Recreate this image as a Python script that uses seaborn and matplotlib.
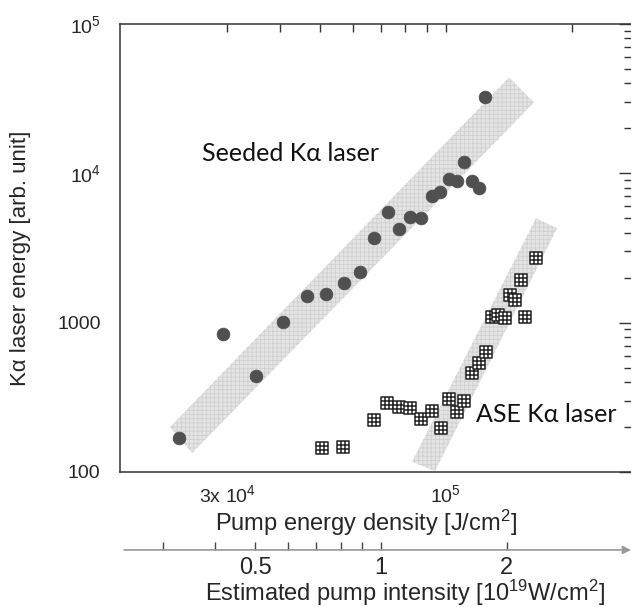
import numpy as np
import pandas as pd
import matplotlib
matplotlib.use('Agg')
import matplotlib.pyplot as plt
from matplotlib.path import Path
import seaborn as sns

# pump energy density [J/cm2] vs K-alpha laser energy [arb. unit]
seeded_x = [22970, 29280, 35120, 40760, 46530, 51660, 57050, 62310, 67320, 72700,
            77260, 82110, 87230, 92670, 96850, 101780, 106370, 110550, 115550, 120100, 124140]
seeded_y = [169, 837, 439, 1016, 1504, 1551, 1837, 2177, 3674, 5483,
            4219, 5078, 5000, 7020, 7460, 9120, 8840, 11850, 8840, 7940, 32230]

ase_x = [50540, 56740, 67320, 72300, 77260, 82110, 87230, 92670, 97390, 101780,
         106370, 110550, 115550, 120100, 124830, 129000, 133350, 138600, 142500,
         146500, 151400, 154800, 164400]
ase_y = [145, 147, 223, 289, 272, 268, 226, 256, 197, 308,
         252, 299, 459, 536, 635, 1089, 1122, 1072, 1528,
         1414, 1924, 1089, 2700]

# shaded guide bands (corners)
seeded_band_x = [21860, 24690, 162700, 141700]
seeded_band_y = [200, 134, 29850, 43850]
ase_band_x = [83010, 94220, 184600, 164400]
ase_band_y = [117, 101.5, 4287, 5000]

# 1e19 W/cm2 <-> J/cm2
intensity_factor = 7.0e4
intensity_major = [0.5, 1, 2]
intensity_minor = [0.3, 0.4, 0.6, 0.7, 0.8, 0.9]

seeded = pd.DataFrame({'energy_density': seeded_x, 'laser_energy': seeded_y})
ase = pd.DataFrame({'energy_density': ase_x, 'laser_energy': ase_y})

sns.set_style('white')
plt.rcParams['font.family'] = ['Liberation Sans', 'DejaVu Sans']
plt.rcParams['mathtext.fontset'] = 'custom'
plt.rcParams['mathtext.rm'] = 'Liberation Sans'
plt.rcParams['mathtext.it'] = 'Liberation Sans:italic'
plt.rcParams['hatch.linewidth'] = 0.6

fig = plt.figure(figsize=(6.31, 6.07), dpi=100)
ax = fig.add_axes([120/631, 135/607, 511/631, 448/607])
ax.set_xscale('log')
ax.set_yscale('log')
ax.set_xlim(16590, 277600)
ax.set_ylim(100, 1e5)

ax.fill(seeded_band_x, seeded_band_y, facecolor='#e4e4e4', edgecolor='#d0d0d0',
        hatch='++++', lw=0, zorder=1)
ax.fill(ase_band_x, ase_band_y, facecolor='#e4e4e4', edgecolor='#d0d0d0',
        hatch='++++', lw=0, zorder=1)

# square marker with a grid inside
grid_verts = [(-1, -1), (1, -1), (1, 1), (-1, 1), (-1, -1),
              (-1/3, -1), (-1/3, 1), (1/3, -1), (1/3, 1),
              (-1, -1/3), (1, -1/3), (-1, 1/3), (1, 1/3)]
grid_codes = [Path.MOVETO, Path.LINETO, Path.LINETO, Path.LINETO, Path.CLOSEPOLY,
              Path.MOVETO, Path.LINETO, Path.MOVETO, Path.LINETO,
              Path.MOVETO, Path.LINETO, Path.MOVETO, Path.LINETO]
grid_marker = Path(grid_verts, grid_codes)

sns.scatterplot(data=seeded, x='energy_density', y='laser_energy', ax=ax,
                marker='o', s=85, color='#505050', edgecolor='#505050', linewidth=0.5,
                zorder=3, legend=False)
sns.scatterplot(data=ase, x='energy_density', y='laser_energy', ax=ax,
                marker=grid_marker, s=80, facecolor='white', edgecolor='#222222',
                linewidth=1.1, zorder=3, legend=False)

ax.text(26080, 13610, 'Seeded K\u03b1 laser', fontsize=18, va='center', ha='left',
        family=['Lato', 'DejaVu Sans'], color='#111111')
ax.text(118100, 241, 'ASE K\u03b1 laser', fontsize=18, va='center', ha='left',
        family=['Lato', 'DejaVu Sans'], color='#111111')

for s in ['left', 'bottom', 'top']:
    ax.spines[s].set_color('#333333')
    ax.spines[s].set_linewidth(1.1)
ax.spines['right'].set_visible(False)

ax.set_yticks([100, 1000, 1e4, 1e5])
ax.set_yticklabels(['100', '1000', r'$\mathregular{10^4}$', r'$\mathregular{10^5}$'])
ax.set_xticks([3e4, 1e5])
ax.set_xticklabels([r'3x $\mathregular{10^4}$', r'$\mathregular{10^5}$'])
ax.set_xticks([4e4, 5e4, 6e4, 7e4, 8e4, 9e4, 2e5], minor=True)
ax.xaxis.set_minor_formatter(plt.NullFormatter())
ax.tick_params(axis='x', which='both', direction='in', top=True, length=6, width=1,
               color='#333333', labelsize=14, pad=9)
ax.tick_params(axis='y', which='major', direction='in', right=True, length=9, width=1,
               color='#333333', labelsize=14, pad=14)
ax.tick_params(axis='y', which='minor', direction='in', right=True, length=5, width=1,
               color='#333333')

ax.set_xlabel(r'Pump energy density [J/cm$\mathregular{^2}$]', fontsize=17)
ax.xaxis.set_label_coords(0.481, -0.080)
ax.set_ylabel('K\u03b1 laser energy [arb. unit]', fontsize=16, va='center')
ax.yaxis.set_label_coords(-0.194, 0.478)

# second scale: estimated pump intensity
sec = ax.secondary_xaxis(-0.174, functions=(lambda e: e / intensity_factor,
                                             lambda i: i * intensity_factor))
sec.set_xticks(intensity_major)
sec.set_xticklabels([str(v) for v in intensity_major])
sec.set_xticks(intensity_minor, minor=True)
sec.xaxis.set_minor_formatter(plt.NullFormatter())
sec.spines['bottom'].set_visible(False)
sec.tick_params(axis='x', which='both', direction='in', length=6, width=1,
                color='#444444', labelsize=17, pad=5)
sec.set_xlabel(r'Estimated pump intensity [10$\mathregular{^{19}}$W/cm$\mathregular{^2}$]',
               fontsize=17)
sec.xaxis.set_label_coords(0.558, -0.236, transform=ax.transAxes)
ax.annotate('', xy=(1.0, -0.174), xytext=(0.008, -0.174),
            xycoords='axes fraction', textcoords='axes fraction',
            arrowprops=dict(arrowstyle='-|>', color='#999999', lw=1.2,
                            mutation_scale=12, shrinkA=0, shrinkB=0),
            annotation_clip=False)

fig.savefig('out.png', dpi=100)
